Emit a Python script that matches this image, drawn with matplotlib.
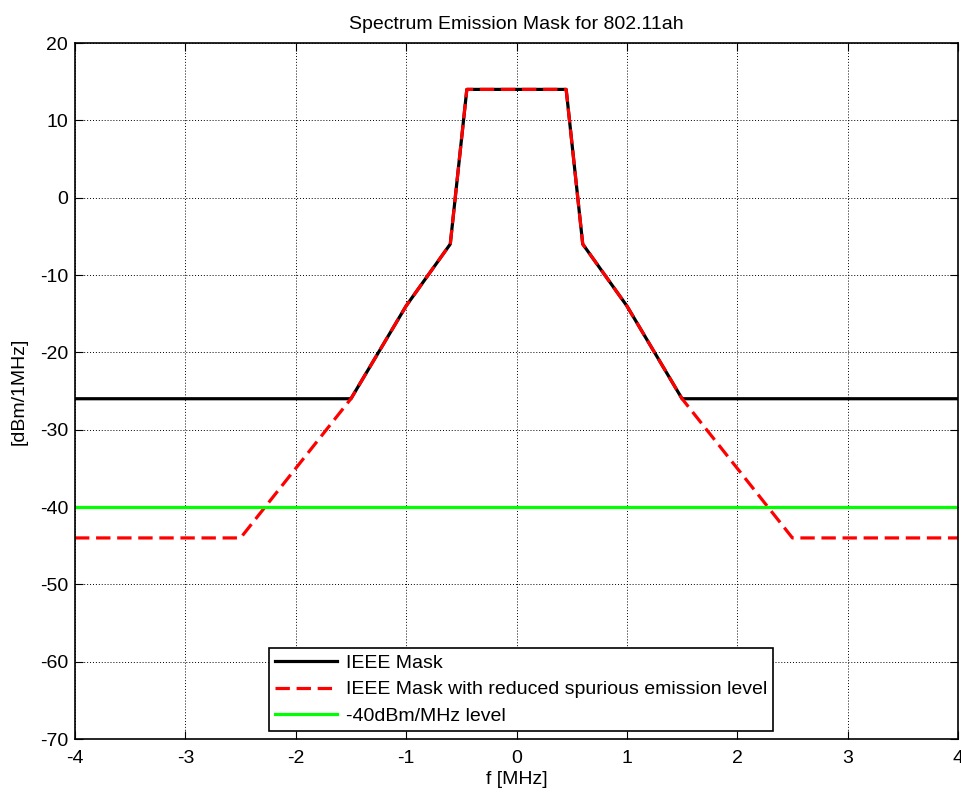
import matplotlib
matplotlib.use("Agg")
import matplotlib.pyplot as plt

plt.rcParams['font.family'] = ['Liberation Sans', 'DejaVu Sans']
plt.rcParams['axes.unicode_minus'] = False

# Data
mask_f = [-4, -1.5, -1.0, -0.6, -0.45, 0.45, 0.6, 1.0, 1.5, 4]
mask_p = [-26, -26, -14, -6, 14, 14, -6, -14, -26, -26]
red_f = [-4, -2.5, -1.5, -1.0, -0.6, -0.45, 0.45, 0.6, 1.0, 1.5, 2.5, 4]
red_p = [-44, -44, -26, -14, -6, 14, 14, -6, -14, -26, -44, -44]
lvl_f = [-4, 4]
lvl_p = [-40, -40]
labels = ["IEEE Mask", "IEEE Mask with reduced spurious emission level", "-40dBm/MHz level"]
xticks = [-4, -3, -2, -1, 0, 1, 2, 3, 4]
yticks = [-70, -60, -50, -40, -30, -20, -10, 0, 10, 20]

FS = 14

fig = plt.figure(figsize=(9.61, 7.93), dpi=100)
ax = fig.add_axes([75/961, 1-739/793, (958-75)/961, (739-43)/793])

ax.plot(mask_f, mask_p, color='black', lw=2.3, label=labels[0])
ax.plot(red_f, red_p, color='red', lw=2.3, ls=(0, (4.5, 2.1)), label=labels[1])
ax.plot(lvl_f, lvl_p, color='#00ff00', lw=2.3, label=labels[2])

ax.set_xlim(-4, 4)
ax.set_ylim(-70, 20)
ax.set_xticks(xticks)
ax.set_yticks(yticks)
ax.grid(True, color='black', ls=(0, (1, 2)), lw=0.7)
ax.tick_params(direction='in', top=True, right=True, length=6, width=0.8, labelsize=FS)
ax.tick_params(axis='x', pad=8)
ax.tick_params(axis='y', pad=5)
for s in ax.spines.values():
    s.set_linewidth(1.2)

ax.set_title("Spectrum Emission Mask for 802.11ah", fontsize=FS, pad=10)
ax.set_xlabel("f [MHz]", fontsize=FS, labelpad=3)
ax.set_ylabel("[dBm/1MHz]", fontsize=FS, labelpad=9)

leg = ax.legend(loc='lower left', bbox_to_anchor=((269-75)/883, (739-731)/696),
                fontsize=FS, fancybox=False, framealpha=1, edgecolor='black',
                handlelength=3.2, borderpad=0.32, labelspacing=0.45, handletextpad=0.42,
                borderaxespad=0)
leg.get_frame().set_linewidth(1.2)

fig.savefig("out.png", dpi=100)
